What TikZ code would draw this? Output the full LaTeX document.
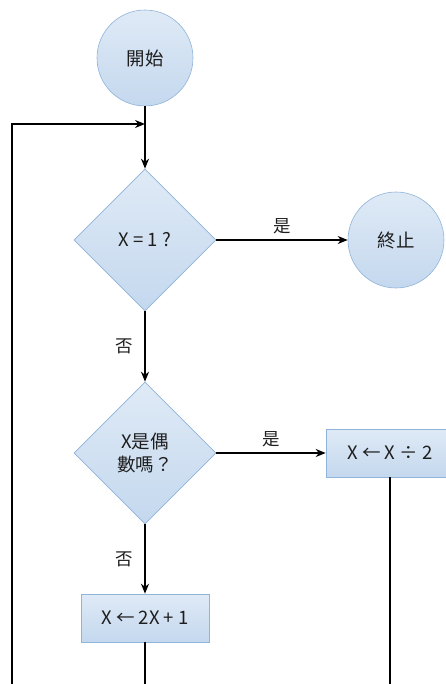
\documentclass[tikz,border=0pt]{standalone}
\usepackage{fontspec}
\setmainfont{Noto Sans CJK TC}
\usepackage{xcolor}
\usetikzlibrary{shapes.geometric, arrows.meta, positioning, calc}

\definecolor{boxtop}{HTML}{DFEAF6}
\definecolor{boxbot}{HTML}{C4D8EE}
\definecolor{boxline}{HTML}{8FB3D9}
\definecolor{ink}{HTML}{1E1E1E}

\begin{document}
\begin{tikzpicture}[x=1pt, y=-1pt,
    shape box/.style={draw=boxline, line width=0.6pt, top color=boxtop, bottom color=boxbot,
        text=ink, font=\fontsize{18.5}{23}\selectfont, align=center, inner sep=0pt},
    term/.style={shape box, circle, minimum size=96pt},
    cond/.style={shape box, diamond, minimum width=142pt, minimum height=142pt},
    proc/.style={shape box, rectangle, minimum width=128pt, minimum height=48pt},
    flow/.style={line width=1.7pt, black, -{Stealth[length=10pt, width=8pt]}},
    plain/.style={line width=1.7pt, black},
    tag/.style={font=\fontsize{17.5}{19}\selectfont, text=ink}]
\useasboundingbox (0,0) rectangle (446,684);
\clip (0,0) rectangle (446,684);

% Nodes
\node[term] (start) at (145,58) {開始};
\node[cond] (isone) at (145,240) {X = 1 ?};
\node[term] (stop) at (396,240) {終止};
\node[cond] (iseven) at (145,453) {X是偶\\數嗎？};
\node[proc] (halve) at (390,453) {X ← X ÷ 2};
\node[proc] (triple) at (145,618) {X ← 2X + 1};

% Loop back
\coordinate (merge) at (145,124);
\coordinate (loopcorner) at (12,124);
\coordinate (loopbottom) at (12,700);
\coordinate (halveout) at (390,700);
\coordinate (tripleout) at (145,700);

% Connectors
\draw[flow] (start) -- (isone);
\draw[flow] (loopbottom) -- (loopcorner) -- (merge);
\draw[flow] (isone.east) -- node[tag, midway, above=2pt] {是} (stop.west);
\draw[flow] (isone.south) -- node[tag, midway, left=8pt] {否} (iseven.north);
\draw[flow] (iseven.east) -- node[tag, midway, above=2pt] {是} (halve.west);
\draw[flow] (iseven.south) -- node[tag, midway, left=8pt] {否} (triple.north);
\draw[plain] (triple.south) -- (tripleout);
\draw[plain] (halve.south) -- (halveout);
\end{tikzpicture}
\end{document}
